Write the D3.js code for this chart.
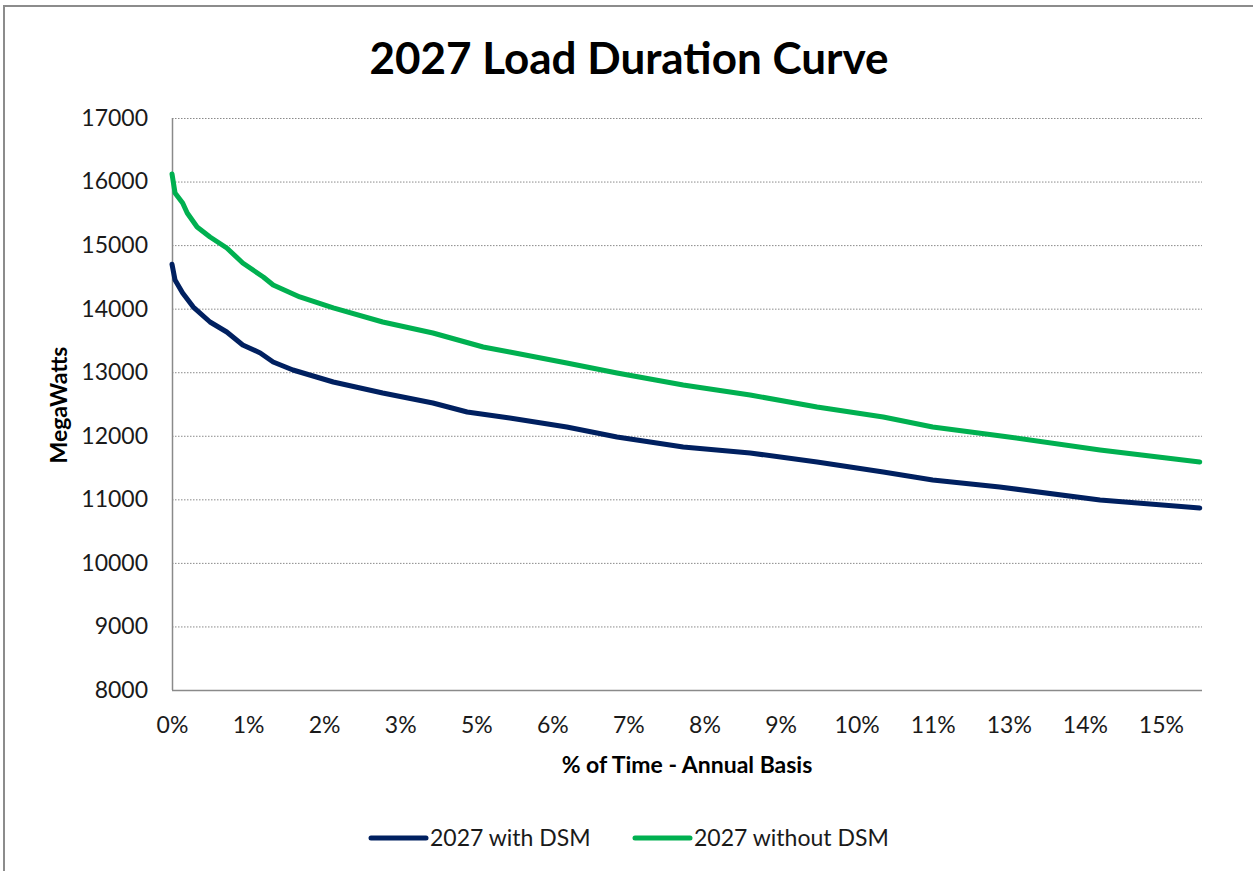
<!DOCTYPE html>
<html>
<head>
<meta charset="utf-8">
<script src="https://cdn.jsdelivr.net/npm/d3@7/dist/d3.min.js"></script>
<style>
  body { margin: 0; background: #fff; }
  svg { display: block; font-family: Lato, "Open Sans", sans-serif; }
</style>
</head>
<body>
<svg id="chart" width="1253" height="871"></svg>
<script>
// hours of the year sorted by load (load duration curve), MW
var withDsmHours = [0, 4, 14, 28, 50, 72, 93, 116, 133, 159, 212, 277, 343, 388, 444, 519, 585, 672, 760, 848, 935, 1000, 1088, 1220, 1351];
var withDsmMW = [14700, 14451, 14247, 14026, 13790, 13633, 13429, 13303, 13161, 13035, 12846, 12673, 12516, 12374, 12280, 12139, 11981, 11824, 11729, 11588, 11431, 11305, 11194, 10990, 10864];

var withoutDsmHours = [0, 4, 14, 20, 33, 50, 72, 93, 120, 133, 168, 212, 277, 343, 409, 444, 519, 585, 672, 760, 848, 935, 1000, 1095, 1220, 1351];
var withoutDsmMW = [16120, 15820, 15663, 15505, 15285, 15128, 14955, 14719, 14498, 14373, 14184, 14011, 13790, 13617, 13397, 13318, 13145, 12988, 12799, 12642, 12453, 12296, 12139, 11990, 11777, 11588];

var seriesNames = ["2027 with DSM", "2027 without DSM"];
var seriesColors = ["#002060", "#00B050"];

var yTicks = [8000, 9000, 10000, 11000, 12000, 13000, 14000, 15000, 16000, 17000];
var xTickHours = [0, 100, 200, 300, 400, 500, 600, 700, 800, 900, 1000, 1100, 1200, 1300];
var hoursPerYear = 8760;

var svg = d3.select("#chart");
var plotLeft = 172, plotRight = 1202, plotTop = 118, plotBottom = 690;

var x = d3.scaleLinear().domain([0, 1354]).range([plotLeft, plotRight]);
var y = d3.scaleLinear().domain([8000, 17000]).range([plotBottom, plotTop]);

// frame around the chart
svg.append("path")
  .attr("d", "M4,871V6H1253")
  .attr("fill", "none")
  .attr("stroke", "#8c8c8c")
  .attr("stroke-width", 2);

// gridlines
svg.append("g")
  .selectAll("line")
  .data(yTicks.slice(1))
  .join("line")
  .attr("x1", plotLeft)
  .attr("x2", plotRight)
  .attr("y1", (d) => y(d) + 0.5)
  .attr("y2", (d) => y(d) + 0.5)
  .attr("stroke", "#8a8a8a")
  .attr("stroke-width", 1)
  .attr("stroke-dasharray", "1.5,1.5");

// y axis labels
var yAxis = svg.append("g")
  .attr("transform", `translate(${plotLeft},0)`)
  .call(d3.axisLeft(y).tickValues(yTicks).tickSize(0).tickPadding(24).tickFormat(d3.format("d")));
yAxis.select(".domain").remove();
yAxis.selectAll("text").attr("font-size", 23).attr("font-family", "Lato").attr("fill", "#1a1a1a");

// x axis labels
var xAxis = svg.append("g")
  .attr("transform", `translate(0,${plotBottom})`)
  .call(d3.axisBottom(x).tickValues(xTickHours).tickSize(0)
    .tickFormat((d) => d3.format(".0%")(d / hoursPerYear)));
xAxis.select(".domain").remove();
xAxis.selectAll("text")
  .attr("y", 43)
  .attr("dy", null)
  .attr("font-size", 23)
  .attr("font-family", "Lato")
  .attr("fill", "#1a1a1a");

// axis lines
svg.append("line")
  .attr("x1", plotLeft + 0.5).attr("x2", plotLeft + 0.5)
  .attr("y1", plotTop).attr("y2", plotBottom)
  .attr("stroke", "#8a8a8a").attr("stroke-width", 1.5);
svg.append("line")
  .attr("x1", plotLeft).attr("x2", plotRight)
  .attr("y1", plotBottom + 0.5).attr("y2", plotBottom + 0.5)
  .attr("stroke", "#8a8a8a").attr("stroke-width", 1.5);

// the two curves
var series = [
  withDsmHours.map((h, i) => [h, withDsmMW[i]]),
  withoutDsmHours.map((h, i) => [h, withoutDsmMW[i]])
];

var line = d3.line()
  .x((d) => x(d[0]))
  .y((d) => y(d[1]));

svg.append("g")
  .selectAll("path")
  .data(series)
  .join("path")
  .attr("d", line)
  .attr("fill", "none")
  .attr("stroke", (d, i) => seriesColors[i])
  .attr("stroke-width", 5)
  .attr("stroke-linejoin", "round")
  .attr("stroke-linecap", "round");

// titles
svg.append("text")
  .attr("x", 629)
  .attr("y", 74)
  .attr("text-anchor", "middle")
  .attr("font-size", 44)
  .attr("font-weight", "bold")
  .text("2027 Load Duration Curve");

svg.append("text")
  .attr("x", 687)
  .attr("y", 773)
  .attr("text-anchor", "middle")
  .attr("font-size", 23)
  .attr("font-weight", "bold")
  .text("% of Time - Annual Basis");

svg.append("text")
  .attr("transform", "translate(67,405) rotate(-90)")
  .attr("text-anchor", "middle")
  .attr("font-size", 23)
  .attr("font-weight", "bold")
  .text("MegaWatts");

// legend
var legendX = [371, 635];
var legend = svg.append("g")
  .selectAll("g")
  .data(seriesNames)
  .join("g")
  .attr("transform", (d, i) => `translate(${legendX[i]},838)`);

legend.append("line")
  .attr("x1", 0).attr("x2", 55)
  .attr("stroke", (d, i) => seriesColors[i])
  .attr("stroke-width", 5)
  .attr("stroke-linecap", "round");

legend.append("text")
  .attr("x", 59)
  .attr("dy", "0.35em")
  .attr("font-size", 23)
  .attr("fill", "#1a1a1a")
  .text((d) => d);
</script>
</body>
</html>
